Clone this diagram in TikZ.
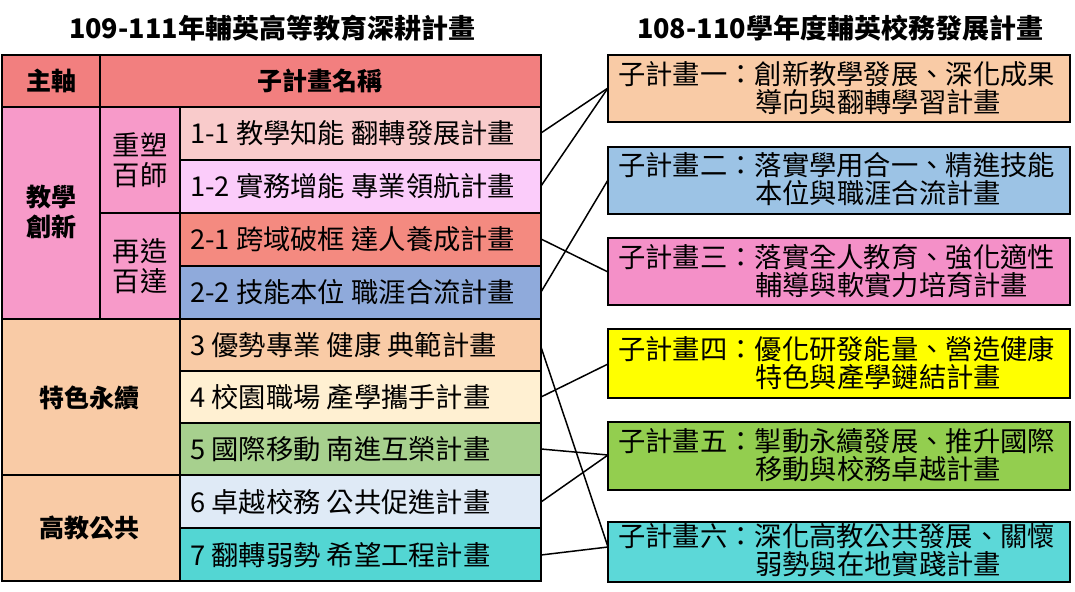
\documentclass[tikz,border=0pt]{standalone}
\usepackage{fontspec}
\setmainfont{Noto Sans CJK TC}
\begin{document}
\begin{tikzpicture}[x=1pt,y=-1pt,
 rbox/.style={draw=black,line width=1.5pt},
 link/.style={draw=black,line width=1.5pt},
 txt/.style={font=\fontsize{27.3}{30}\selectfont,inner sep=0pt},
 btxt/.style={font=\fontsize{25}{30}\selectfont\bfseries,inner sep=0pt,align=center}]
\useasboundingbox (0,0) rectangle (1075,591);
\definecolor{hdr}{HTML}{F27F7F}
\definecolor{pk}{HTML}{F79AC9}
\definecolor{c11}{HTML}{F9CBCB}
\definecolor{c12}{HTML}{FBCCFA}
\definecolor{c21}{HTML}{F48A80}
\definecolor{c22}{HTML}{8FAADB}
\definecolor{c3}{HTML}{F9CBA6}
\definecolor{c4}{HTML}{FFF0D2}
\definecolor{c5}{HTML}{A7D08E}
\definecolor{c6}{HTML}{DFEAF6}
\definecolor{c7}{HTML}{53D6D3}
\definecolor{r1}{HTML}{F9CBA6}
\definecolor{r2}{HTML}{9CC3E5}
\definecolor{r3}{HTML}{F490C8}
\definecolor{r4}{HTML}{FFFF00}
\definecolor{r5}{HTML}{93CE4F}
\definecolor{r6}{HTML}{5CD8D8}
% titles
\node[font=\fontsize{27}{30}\selectfont\bfseries] (t1) at (272,28) {109-111年輔英高等教育深耕計畫};
\node[font=\fontsize{27}{30}\selectfont\bfseries] (t2) at (840,28) {108-110學年度輔英校務發展計畫};
% left table cells
\fill[hdr] (2,55) rectangle (541,107);
\fill[pk] (2,107) rectangle (180,319);
\fill[c11] (180,107) rectangle (541,160);
\fill[c12] (180,160) rectangle (541,213);
\fill[c21] (180,213) rectangle (541,266);
\fill[c22] (180,266) rectangle (541,319);
\fill[c3] (2,319) rectangle (180,581);
\fill[c3] (180,319) rectangle (541,371);
\fill[c4] (180,371) rectangle (541,423);
\fill[c5] (180,423) rectangle (541,475);
\fill[c6] (180,475) rectangle (541,528);
\fill[c7] (180,528) rectangle (541,581);
\draw[line width=1.5pt] (2,55) rectangle (541,581);
\draw[line width=1.5pt] (2,107) -- (541,107) (100,55) -- (100,319) (180,107) -- (180,581)
 (100,213) -- (541,213) (180,160) -- (541,160) (180,266) -- (541,266)
 (2,319) -- (541,319) (180,371) -- (541,371) (180,423) -- (541,423) (2,475) -- (541,475) (180,528) -- (541,528);
% left texts
\node[btxt] (h1) at (51,81) {主軸};
\node[btxt] (h2) at (320,81) {子計畫名稱};
\node[btxt] (a1) at (51,212) {教學\\創新};
\node[btxt] (a2) at (89,398) {特色永續};
\node[btxt] (a3) at (89,528) {高教公共};
\node[txt,align=center] (s1) at (140,160) {重塑\\百師};
\node[txt,align=center] (s2) at (140,266) {再造\\百達};
\node[txt,anchor=west] (p11) at (190,133) {1-1 教學知能 翻轉發展計畫};
\node[txt,anchor=west] (p12) at (190,186) {1-2 實務增能 專業領航計畫};
\node[txt,anchor=west] (p21) at (190,239) {2-1 跨域破框 達人養成計畫};
\node[txt,anchor=west] (p22) at (190,292) {2-2 技能本位 職涯合流計畫};
\node[txt,anchor=west] (p3) at (190,345) {3 優勢專業 健康 典範計畫};
\node[txt,anchor=west] (p4) at (190,397) {4 校園職場 產學攜手計畫};
\node[txt,anchor=west] (p5) at (190,449) {5 國際移動 南進互榮計畫};
\node[txt,anchor=west] (p6) at (190,502) {6 卓越校務 公共促進計畫};
\node[txt,anchor=west] (p7) at (190,555) {7 翻轉弱勢 希望工程計畫};
\coordinate (e11) at (541,133);
\coordinate (e12) at (541,186);
\coordinate (e21) at (541,239);
\coordinate (e22) at (541,292);
\coordinate (e3) at (541,347);
\coordinate (e4) at (541,397);
\coordinate (e5) at (541,449);
\coordinate (e6) at (541,502);
\coordinate (e7) at (541,555);
% right boxes
\fill[r1] (608,55) rectangle (1070,122); \draw[rbox] (608,55) rectangle (1070,122);
\fill[r2] (608,147) rectangle (1070,214); \draw[rbox] (608,147) rectangle (1070,214);
\fill[r3] (608,238) rectangle (1070,305); \draw[rbox] (608,238) rectangle (1070,305);
\fill[r4] (608,329) rectangle (1070,398); \draw[rbox] (608,329) rectangle (1070,398);
\fill[r5] (608,422) rectangle (1070,490); \draw[rbox] (608,422) rectangle (1070,490);
\fill[r6] (608,522) rectangle (1070,582); \draw[rbox] (608,522) rectangle (1070,582);
\coordinate (b1) at (608,88);
\coordinate (b2) at (608,180);
\coordinate (b3) at (608,272);
\coordinate (b4) at (608,364);
\coordinate (b5) at (608,455);
\coordinate (b6) at (608,547);
\node[txt,anchor=west] (q1a) at (618,74) {子計畫一：創新教學發展、深化成果};
\node[txt,anchor=west] (q1b) at (755,102) {導向與翻轉學習計畫};
\node[txt,anchor=west] (q2a) at (618,165) {子計畫二：落實學用合一、精進技能};
\node[txt,anchor=west] (q2b) at (755,193) {本位與職涯合流計畫};
\node[txt,anchor=west] (q3a) at (618,257) {子計畫三：落實全人教育、強化適性};
\node[txt,anchor=west] (q3b) at (755,285) {輔導與軟實力培育計畫};
\node[txt,anchor=west] (q4a) at (618,349) {子計畫四：優化研發能量、營造健康};
\node[txt,anchor=west] (q4b) at (755,377) {特色與產學鏈結計畫};
\node[txt,anchor=west] (q5a) at (618,441) {子計畫五：掣動永續發展、推升國際};
\node[txt,anchor=west] (q5b) at (755,469) {移動與校務卓越計畫};
\node[txt,anchor=west] (q6a) at (618,536) {子計畫六：深化高教公共發展、關懷};
\node[txt,anchor=west] (q6b) at (755,564) {弱勢與在地實踐計畫};
% links
\draw[link] (e11) -- (b1);
\draw[link] (e12) -- (b1);
\draw[link] (e21) -- (b3);
\draw[link] (e22) -- (b2);
\draw[link] (e3) -- (b6);
\draw[link] (e4) -- (b4);
\draw[link] (e5) -- (b5);
\draw[link] (e6) -- (b5);
\draw[link] (e7) -- (b6);
\end{tikzpicture}
\end{document}
